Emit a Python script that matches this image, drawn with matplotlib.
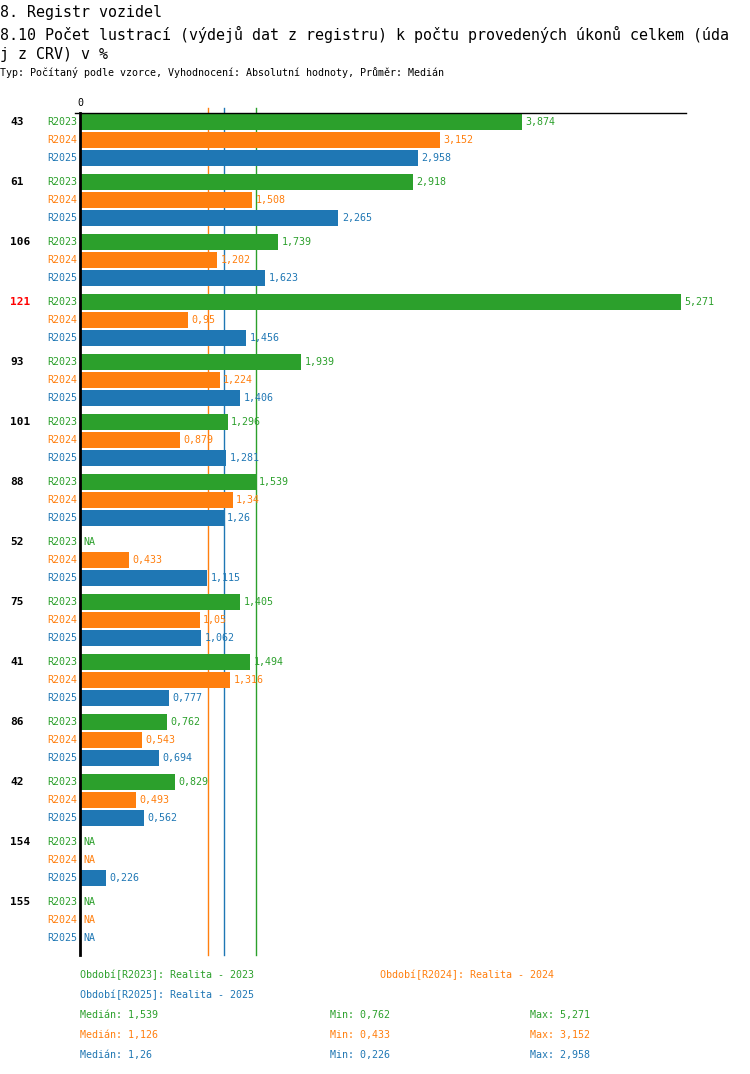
"""Registr vozidel 8.10 - horizontal grouped bars with median lines"""
import numpy as np
import matplotlib
matplotlib.use("Agg")
import matplotlib.pyplot as plt
from matplotlib.lines import Line2D

plt.rcParams["font.family"] = ["DejaVu Sans Mono"]

W, H = 750, 1074

categories = ["43", "61", "106", "121", "93", "101", "88", "52", "75", "41", "86", "42", "154", "155"]
highlight = "121"
series = ["R2023", "R2024", "R2025"]
colors = ["#2ca02c", "#ff7f0e", "#1f77b4"]
nan = np.nan
r2023 = [3.874, 2.918, 1.739, 5.271, 1.939, 1.296, 1.539, nan, 1.405, 1.494, 0.762, 0.829, nan, nan]
r2024 = [3.152, 1.508, 1.202, 0.95, 1.224, 0.879, 1.34, 0.433, 1.05, 1.316, 0.543, 0.493, nan, nan]
r2025 = [2.958, 2.265, 1.623, 1.456, 1.406, 1.281, 1.26, 1.115, 1.062, 0.777, 0.694, 0.562, 0.226, nan]
legend_names = ["Období[R2023]: Realita - 2023", "Období[R2024]: Realita - 2024",
                "Období[R2025]: Realita - 2025"]
values = [r2023, r2024, r2025]

def fmt(v):
    return f"{v:g}".replace(".", ",")

def px(x, y):
    return x / W, 1 - y / H

fig = plt.figure(figsize=(W / 100, H / 100), dpi=100)

# axes in pixel layout: left 80, right 686, top 113, bottom 955
ax_l, ax_r, ax_t, ax_b = 80, 686, 113, 955
ax = fig.add_axes([ax_l / W, 1 - ax_b / H, (ax_r - ax_l) / W, (ax_b - ax_t) / H])
scale = 114.1  # px per unit
ax.set_xlim(0, (ax_r - ax_l) / scale)
first = 122
ax.set_ylim(ax_b - first, ax_t - first)  # pixel-based rows, inverted

group_step, bar_step, bar_h = 60, 18, 16
for s, (name, col, vals) in enumerate(zip(series, colors, values)):
    ys = np.arange(len(categories)) * group_step + s * bar_step
    v = np.array(vals, dtype=float)
    ax.barh(ys, np.nan_to_num(v), height=bar_h, color=col, lw=0,
            antialiased=False, zorder=3)
    for y, val in zip(ys, v):
        txt = "NA" if np.isnan(val) else fmt(val)
        ax.annotate(txt, (0 if np.isnan(val) else val, y), xytext=(2.4, 0),
                    textcoords="offset points", va="center", ha="left",
                    fontsize=7.2, color=col, zorder=4)
        ax.annotate(name, (0, y), xytext=(-1.8, 0), textcoords="offset points",
                    va="center", ha="right", fontsize=7.2, color=col,
                    annotation_clip=False)

for i, cat in enumerate(categories):
    y = i * group_step
    ax.annotate(cat, (0, y), xycoords=("figure fraction", "data"),
                xytext=(7.2, 0), textcoords="offset points", va="center", ha="left",
                fontsize=8, fontweight="bold",
                color="red" if cat == highlight else "black", annotation_clip=False)

# median lines behind the bars
medians = [np.nanmedian(np.array(v, dtype=float)) for v in values]
for m, col in zip(medians, colors):
    ax.plot([m, m], [ax_t - first - 5, ax_b - first], color=col, lw=1, zorder=1, clip_on=False)

for sp in ["right", "bottom"]:
    ax.spines[sp].set_visible(False)
ax.spines["left"].set_linewidth(2)
ax.spines["left"].set_zorder(5)
ax.spines["top"].set_linewidth(1)
ax.spines["top"].set_zorder(5)
ax.set_xticks([])
ax.set_yticks([])
fig.add_artist(Line2D([75 / W, 80 / W], [1 - 113 / H] * 2, color="black", lw=1))
fig.text(*px(80, 103), "0", fontsize=7.2, ha="center", va="center")

# titles
fig.text(*px(0, 12), "8. Registr vozidel", fontsize=10.8, va="center")
fig.text(*px(0, 34), "8.10 Počet lustrací (výdejů dat z registru) k počtu provedených úkonů celkem (úda",
         fontsize=10.8, va="center")
fig.text(*px(0, 54), "j z CRV) v %", fontsize=10.8, va="center")
fig.text(*px(0, 73), "Typ: Počítaný podle vzorce, Vyhodnocení: Absolutní hodnoty, Průměr: Medián",
         fontsize=7.2, va="center")

# legend
fig.text(*px(80, 975), legend_names[0], fontsize=7.2, color=colors[0], va="center")
fig.text(*px(380, 975), legend_names[1], fontsize=7.2, color=colors[1], va="center")
fig.text(*px(80, 995), legend_names[2], fontsize=7.2, color=colors[2], va="center")
for s, (col, vals) in enumerate(zip(colors, values)):
    v = np.array(vals, dtype=float)
    y = 1015 + s * 20
    fig.text(*px(80, y), f"Medián: {fmt(np.nanmedian(v))}", fontsize=7.2, color=col, va="center")
    fig.text(*px(330, y), f"Min: {fmt(np.nanmin(v))}", fontsize=7.2, color=col, va="center")
    fig.text(*px(530, y), f"Max: {fmt(np.nanmax(v))}", fontsize=7.2, color=col, va="center")

fig.savefig("out.png", dpi=100)
print("saved out.png")
